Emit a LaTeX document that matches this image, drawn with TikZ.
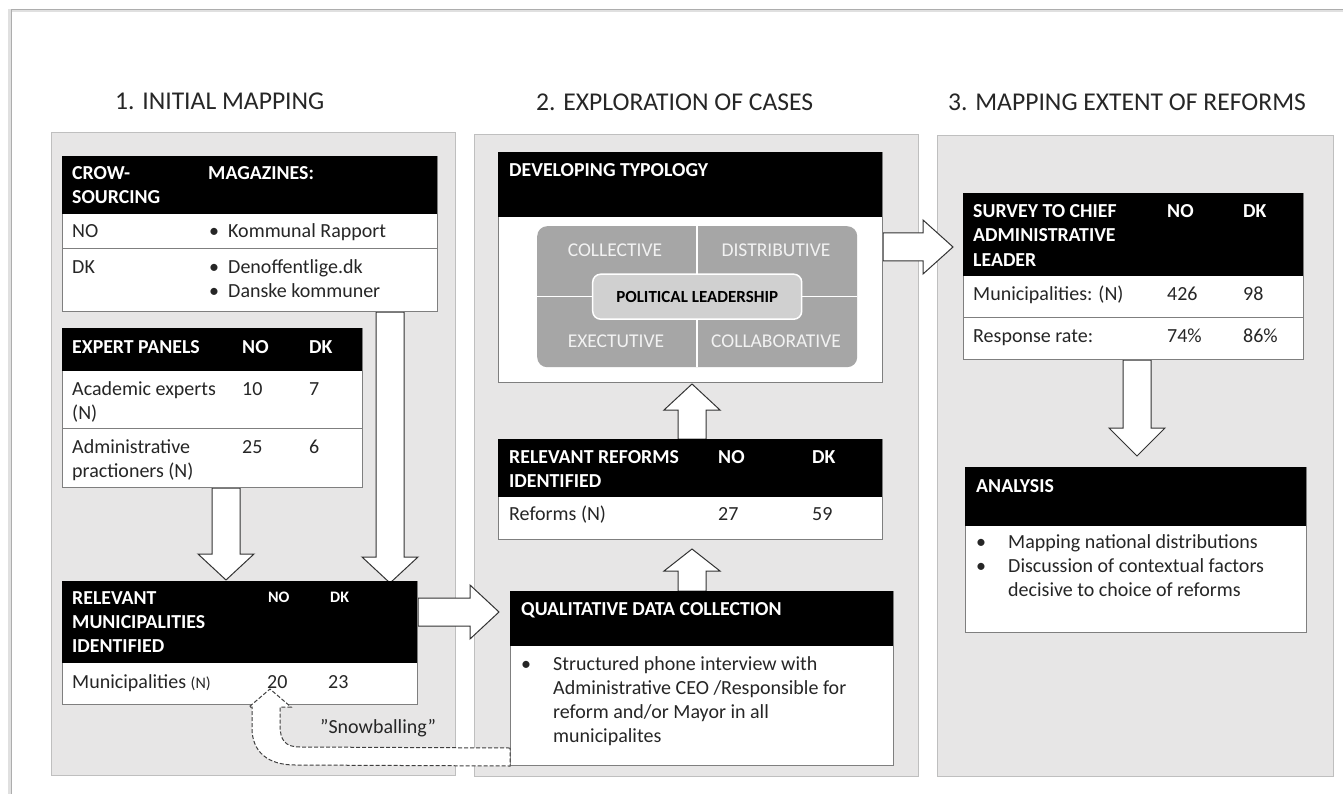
\documentclass[tikz,border=0pt]{standalone}
\usepackage{fontspec}
\setmainfont{Carlito}
\usetikzlibrary{calc}
\definecolor{panelfill}{HTML}{E7E6E6}
\definecolor{panelline}{HTML}{BFBFBF}
\definecolor{boxline}{HTML}{7F7F7F}
\definecolor{tdark}{HTML}{262626}
\definecolor{quad}{HTML}{A6A6A6}
\definecolor{quadc}{HTML}{D0D0D0}
\definecolor{quadt}{HTML}{F2F2F2}
\tikzset{
 panel/.style={draw=panelline, fill=panelfill, line width=1.2pt, anchor=north west, inner sep=0pt},
 box/.style={draw=boxline, fill=white, line width=1pt, anchor=north west, inner sep=0pt},
 hdr/.style={fill=black, anchor=north west, inner sep=0pt},
 sepline/.style={draw=boxline, line width=1pt},
 body/.style={font=\fontsize{20}{24}\selectfont, text=tdark, anchor=base west, inner sep=0pt},
 head/.style={font=\bfseries\fontsize{19.8}{24}\selectfont, text=white, anchor=base west, inner sep=0pt},
 smallhead/.style={font=\bfseries\fontsize{16}{20}\selectfont, text=white, anchor=base west, inner sep=0pt},
 title/.style={font=\fontsize{25.6}{30}\selectfont, text=tdark, anchor=base west, inner sep=0pt},
 quadlabel/.style={font=\fontsize{19.5}{24}\selectfont, text=quadt, anchor=base, inner sep=0pt},
 bigarrow/.style={draw=black!80, fill=white, line width=1pt, line join=miter},
 snowarrow/.style={draw=black!75, fill=white, line width=1pt, dash pattern=on 4pt off 2pt},
}
% block arrows: #1 start, #2 tip, #3 head length
\newcommand\barrowdown[3]{%
 \draw[bigarrow] let \p1=#1, \p2=#2 in
  ({\x1-14pt},\y1) -- ({\x1-14pt},{\y2+#3pt}) -- ({\x1-28pt},{\y2+#3pt}) -- (\x1,\y2)
  -- ({\x1+28pt},{\y2+#3pt}) -- ({\x1+14pt},{\y2+#3pt}) -- ({\x1+14pt},\y1) -- cycle;}
\newcommand\barrowup[3]{%
 \draw[bigarrow] let \p1=#1, \p2=#2 in
  ({\x1-14pt},\y1) -- ({\x1-14pt},{\y2-#3pt}) -- ({\x1-28pt},{\y2-#3pt}) -- (\x1,\y2)
  -- ({\x1+28pt},{\y2-#3pt}) -- ({\x1+14pt},{\y2-#3pt}) -- ({\x1+14pt},\y1) -- cycle;}
\newcommand\barrowright[3]{%
 \draw[bigarrow] let \p1=#1, \p2=#2 in
  (\x1,{\y1+14pt}) -- ({\x2-#3pt},{\y1+14pt}) -- ({\x2-#3pt},{\y1+27pt}) -- (\x2,\y1)
  -- ({\x2-#3pt},{\y1-27pt}) -- ({\x2-#3pt},{\y1-14pt}) -- (\x1,{\y1-14pt}) -- cycle;}
\begin{document}
\begin{tikzpicture}[x=1pt,y=-1pt]
\useasboundingbox (0,0) rectangle (1343,794);
% page frame
\draw[color=black!12, line width=3pt] (9,794) -- (9,11) -- (1343,11);
\draw[color=black!32, line width=1.5pt] (11.5,794) -- (11.5,9.5) -- (1343,9.5);

% titles
\node[title] (tt1) at (115,110) {1. INITIAL MAPPING};
\node[title] (tt2) at (536,111) {2. EXPLORATION OF CASES};
\node[title] (tt3) at (948,111) {3. MAPPING EXTENT OF REFORMS};

% panels
\node[panel, minimum width=404pt, minimum height=643pt] (p1) at (51,132) {};
\node[panel, minimum width=444pt, minimum height=642pt] (p2) at (474,134) {};
\node[panel, minimum width=396pt, minimum height=641pt] (p3) at (937,135) {};

% coordinates for arrow axes
\coordinate (ax1) at (226,0);
\coordinate (ax2) at (390,0);
\coordinate (ax3) at (1137,0);
\coordinate (ax4) at (692,0);
\coordinate (ay1) at (0,612);
\coordinate (ay2) at (0,247);

% ---------- boxes ----------
\node[box, minimum width=375pt, minimum height=155pt] (crowd) at (62,156) {};
\node[box, minimum width=300pt, minimum height=159pt] (expert) at (62,328) {};
\node[box, minimum width=355pt, minimum height=123pt] (muni) at (62,581) {};
\node[box, minimum width=384pt, minimum height=230pt] (typology) at (498,152) {};
\node[box, minimum width=384pt, minimum height=100pt] (reforms) at (498,439) {};
\node[box, minimum width=383pt, minimum height=174pt] (qual) at (510,591) {};
\node[box, minimum width=340pt, minimum height=166pt] (survey) at (963,193) {};
\node[box, minimum width=341pt, minimum height=165pt] (analysis) at (965,467) {};

% ---------- block arrows ----------
\barrowdown{(expert.south -| ax1)}{($(muni.north -| ax1)+(0,-1)$)}{26}
\barrowdown{(crowd.south -| ax2)}{($(muni.north -| ax2)+(0,2)$)}{26}
\barrowdown{(survey.south -| ax3)}{($(analysis.north -| ax3)+(0,-11)$)}{28}
\barrowup{(reforms.north -| ax4)}{($(typology.south -| ax4)+(0,1)$)}{26}
\barrowup{(qual.north -| ax4)}{($(reforms.south -| ax4)+(0,9)$)}{22}
\barrowright{(muni.east |- ay1)}{($(qual.west |- ay1)+(-11,0)$)}{29}
\barrowright{(typology.east |- ay2)}{($(survey.west |- ay2)+(-10,0)$)}{30}

% redraw boxes on top of arrow ends
\node[box, minimum width=355pt, minimum height=123pt] (muniB) at (muni.north west) {};
\node[box, minimum width=383pt, minimum height=174pt] (qualB) at (qual.north west) {};
\node[box, minimum width=340pt, minimum height=166pt] (surveyB) at (survey.north west) {};
\node[box, minimum width=341pt, minimum height=165pt] (analysisB) at (analysis.north west) {};
\node[box, minimum width=384pt, minimum height=230pt] (typologyB) at (typology.north west) {};
\node[box, minimum width=384pt, minimum height=100pt] (reformsB) at (reforms.north west) {};
\node[box, minimum width=375pt, minimum height=155pt] (crowdB) at (crowd.north west) {};
\node[box, minimum width=300pt, minimum height=159pt] (expertB) at (expert.north west) {};

% headers
\node[hdr, minimum width=375pt, minimum height=58pt] (crowdH) at (crowd.north west) {};
\node[hdr, minimum width=300pt, minimum height=43pt] (expertH) at (expert.north west) {};
\node[hdr, minimum width=355pt, minimum height=82pt] (muniH) at (muni.north west) {};
\node[hdr, minimum width=384pt, minimum height=65pt] (typologyH) at (typology.north west) {};
\node[hdr, minimum width=384pt, minimum height=58pt] (reformsH) at (reforms.north west) {};
\node[hdr, minimum width=383pt, minimum height=55pt] (qualH) at (qual.north west) {};
\node[hdr, minimum width=340pt, minimum height=83pt] (surveyH) at (survey.north west) {};
\node[hdr, minimum width=341pt, minimum height=59pt] (analysisH) at (analysis.north west) {};

% row separators
\draw[sepline] ($(crowd.north west)+(0,93)$) -- ($(crowd.north east)+(0,93)$);
\draw[sepline] ($(expert.north west)+(0,100)$) -- ($(expert.north east)+(0,100)$);
\draw[sepline] ($(survey.north west)+(0,124)$) -- ($(survey.north east)+(0,124)$);

% ---------- texts: crowdsourcing ----------
\node[head] (c1) at (72,180) {CROW-};
\node[head] (c2) at (72,204) {SOURCING};
\node[head] (c3) at (208,180) {MAGAZINES:};
\node[body] (c4) at (72,238) {NO};
\node[body] (c5) at (209,238) {•};
\node[body] (c6) at (228,238) {Kommunal Rapport};
\node[body] (c7) at (72,273) {DK};
\node[body] (c8) at (209,273) {•};
\node[body] (c9) at (228,273) {Denoffentlige.dk};
\node[body] (c10) at (209,297) {•};
\node[body] (c11) at (228,297) {Danske kommuner};

% ---------- expert panels ----------
\node[head] (e1) at (72,353) {EXPERT PANELS};
\node[head] (e2) at (242,353) {NO};
\node[head] (e3) at (309,353) {DK};
\node[body] (e4) at (72,395) {Academic experts};
\node[body] (e5) at (72,419) {(N)};
\node[body] (e6) at (242,395) {10};
\node[body] (e7) at (309,395) {7};
\node[body] (e8) at (72,453) {Administrative};
\node[body] (e9) at (72,477) {practioners (N)};
\node[body] (e10) at (242,453) {25};
\node[body] (e11) at (309,453) {6};

% ---------- relevant municipalities ----------
\node[head] (m1) at (72,604) {RELEVANT};
\node[head] (m2) at (72,628) {MUNICIPALITIES};
\node[head] (m3) at (72,652) {IDENTIFIED};
\node[smallhead] (m4) at (268,602) {NO};
\node[smallhead] (m5) at (330,602) {DK};
\node[body] (m6) at (72,688) {Municipalities {\fontsize{16}{20}\selectfont(N)}};
\node[body] (m7) at (267,688) {20};
\node[body] (m8) at (328,688) {23};

% snowballing connector
\draw[snowarrow] ($(qual.south west)+(0,-18)$) -- (300,747)
  .. controls (285,747) and (280,740) .. (280,725) -- (280,707) -- (291,707)
  -- ($(muni.south -| 270,0)+(0,-16)$) -- (249,707) -- (252,707) -- (252,728)
  .. controls (252,752) and (268,765) .. (295,765) -- (qual.south west) -- cycle;
\node[body] (snow) at (320,733) {”Snowballing”};

% ---------- developing typology ----------
\node[head] (d1) at (509,177) {DEVELOPING TYPOLOGY};
\node[fill=quad, rounded corners=10pt, minimum width=320pt, minimum height=141pt, anchor=north west, inner sep=0pt] (grid) at (537,226) {};
\draw[white, line width=1.5pt] (grid.north) -- (grid.south);
\draw[white, line width=1.5pt] (grid.west) -- (grid.east);
\node[quadlabel] (q1) at (615,257) {COLLECTIVE};
\node[quadlabel] (q2) at (776,257) {DISTRIBUTIVE};
\node[quadlabel] (q3) at (616,347) {EXECTUTIVE};
\node[quadlabel] (q4) at (776,347) {COLLABORATIVE};
\node[fill=quadc, draw=white, line width=1.5pt, rounded corners=8pt, minimum width=209pt, minimum height=45pt, inner sep=0pt, font=\bfseries\fontsize{17}{20}\selectfont, text=black] (pl) at (grid.center) {POLITICAL LEADERSHIP};

% ---------- relevant reforms ----------
\node[head] (r1) at (509,463) {RELEVANT REFORMS};
\node[head] (r2) at (509,487) {IDENTIFIED};
\node[head] (r3) at (718,463) {NO};
\node[head] (r4) at (812,463) {DK};
\node[body] (r5) at (509,520) {Reforms (N)};
\node[body] (r6) at (718,520) {27};
\node[body] (r7) at (812,520) {59};

% ---------- qualitative ----------
\node[head] (k1) at (521,615) {QUALITATIVE DATA COLLECTION};
\node[body] (k2) at (521,670) {•};
\node[body] (k3) at (553,670) {Structured phone interview with};
\node[body] (k4) at (553,694) {Administrative CEO /Responsible for};
\node[body] (k5) at (553,718) {reform and/or Mayor in all};
\node[body] (k6) at (553,742) {municipalites};

% ---------- survey ----------
\node[head] (s1) at (973,218) {SURVEY TO CHIEF};
\node[head] (s2) at (973,242) {ADMINISTRATIVE};
\node[head] (s3) at (973,266) {LEADER};
\node[head] (s4) at (1167,218) {NO};
\node[head] (s5) at (1243,218) {DK};
\node[body] (s6) at (973,300) {Municipalities: (N)};
\node[body] (s7) at (1167,300) {426};
\node[body] (s8) at (1243,300) {98};
\node[body] (s9) at (973,342) {Response rate:};
\node[body] (s10) at (1167,342) {74\%};
\node[body] (s11) at (1243,342) {86\%};

% ---------- analysis ----------
\node[head] (a1) at (976,492) {ANALYSIS};
\node[body] (a2) at (976,548) {•};
\node[body] (a3) at (1008,548) {Mapping national distributions};
\node[body] (a4) at (976,572) {•};
\node[body] (a5) at (1008,572) {Discussion of contextual factors};
\node[body] (a6) at (1008,596) {decisive to choice of reforms};
\end{tikzpicture}
\end{document}
